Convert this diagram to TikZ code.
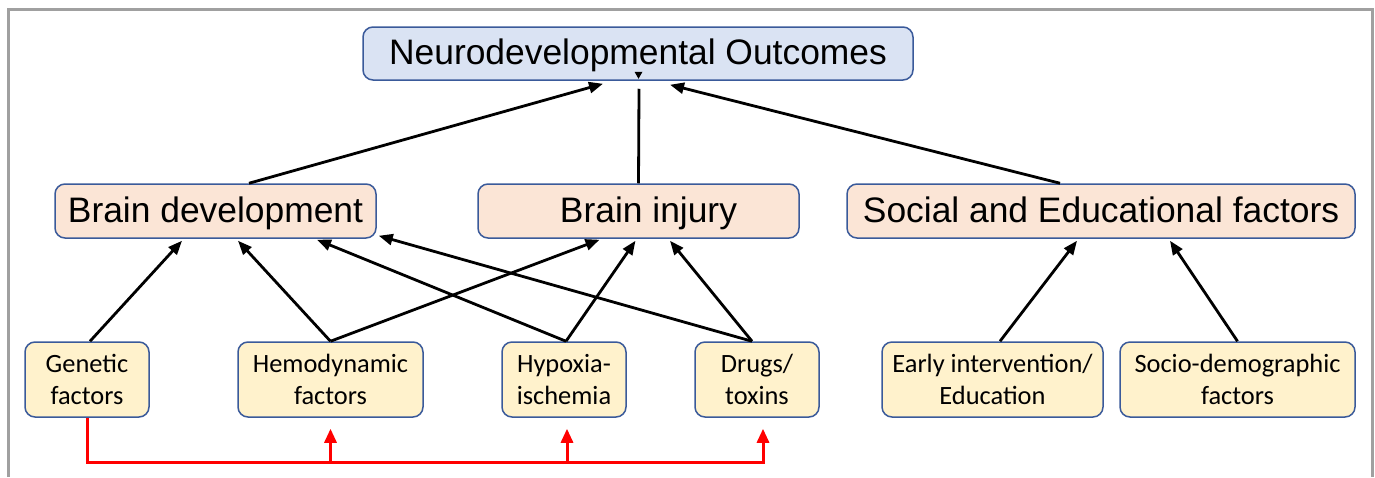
\documentclass[tikz,border=0pt]{standalone}
\usepackage{fontspec}
\setmainfont{Liberation Sans}
\newfontfamily\calibri{Carlito}
\usetikzlibrary{calc,arrows.meta}
\definecolor{boxline}{HTML}{3A5A9A}
\definecolor{outfill}{HTML}{DAE3F3}
\definecolor{midfill}{HTML}{FBE5D6}
\definecolor{lowfill}{HTML}{FFF2CC}
\definecolor{framegray}{HTML}{A0A0A0}

\begin{document}
\begin{tikzpicture}[x=0.5pt,y=-0.5pt,
  box/.style={draw=boxline,line width=0.75pt,rounded corners=5pt,inner sep=0pt},
  bigbox/.style={box,minimum height=27pt,text height=14pt,text depth=2.8pt,font=\fontsize{17.7}{21}\selectfont},
  smallbox/.style={box,fill=lowfill,minimum width=62pt,minimum height=37.5pt,align=center,font=\calibri\fontsize{13.2}{16}\selectfont},
  arr/.style={line width=1.4pt,-{Triangle[length=7pt,width=5.5pt]}},
  redarr/.style={red,line width=1.5pt,-{Triangle[length=7pt,width=6pt]}}]
\useasboundingbox (0,0) rectangle (1375,477);
\draw[framegray,line width=1.5pt] (8,477) -- (8,9) -- (1372,9) -- (1372,477);

\node[bigbox,fill=outfill,minimum width=275pt,minimum height=26.5pt] (out) at (638,53.5) {Neurodevelopmental Outcomes};

\node[bigbox,fill=midfill,minimum width=160.5pt] (bd) at (215.5,211) {Brain development};
\node[bigbox,fill=midfill,minimum width=160.5pt] (bi) at (638.5,211) {\hspace{10pt}Brain injury};
\node[bigbox,fill=midfill,minimum width=254pt] (sef) at (1101,211) {Social and Educational factors};

\node[smallbox] (gen) at (87,379.5) {Genetic\\factors};
\node[smallbox,minimum width=92.5pt] (hem) at (330.5,379.5) {Hemodynamic\\factors};
\node[smallbox] (hyp) at (564,379.5) {Hypoxia-\\ischemia};
\node[smallbox] (drug) at (757,379.5) {Drugs/\\toxins};
\node[smallbox,minimum width=110.5pt] (early) at (992.5,379.5) {Early intervention/\\Education};
\node[smallbox,minimum width=117.5pt] (socio) at (1237.5,379.5) {Socio-demographic\\factors};

\draw[arr] ($(gen.north)+(3,0)$) -- ($(bd.south)+(-33.5,2)$);
\draw[arr] (hem.north) -- ($(bd.south)+(22.5,2)$);
\draw[arr] (hem.north) -- ($(bi.south)+(-39,1)$);
\draw[arr] ($(hyp.north)+(2,0)$) -- ($(bd.south)+(101.5,1)$);
\draw[arr] ($(hyp.north)+(2,0)$) -- ($(bi.south)+(-3,2)$);
\draw[arr] ($(drug.north)+(-5,0)$) -- ($(bd.south east)+(2,-3)$);
\draw[arr] ($(drug.north)+(-5,0)$) -- ($(bi.south)+(31.5,2)$);
\draw[arr] ($(early.north)+(7.5,0)$) -- ($(sef.south)+(-24,2)$);
\draw[arr] (socio.north) -- ($(sef.south)+(69,2)$);

\draw[arr] ($(bd.north)+(33.5,0)$) -- ($(out.south)+(-35,3)$);
\draw[line width=1.4pt] (bi.north) -- ($(out.south)+(1,8)$);
\fill ($(out.south)+(-3.5,-9)$) -- ($(out.south)+(4.5,-9)$) -- ($(out.south)+(0.5,-2)$) -- cycle;
\draw[arr] ($(sef.north)+(-41,0)$) -- ($(out.south)+(32,4)$);

\draw[redarr] (gen.south) -- ++(0,45) coordinate (rl) -| ($(drug.south)+(6,11)$);
\draw[redarr] (rl -| hem.south) -- ($(hem.south)+(0,11)$);
\draw[redarr] ($(rl -| hyp.south)+(3,0)$) -- ($(hyp.south)+(3,11)$);
\end{tikzpicture}
\end{document}
